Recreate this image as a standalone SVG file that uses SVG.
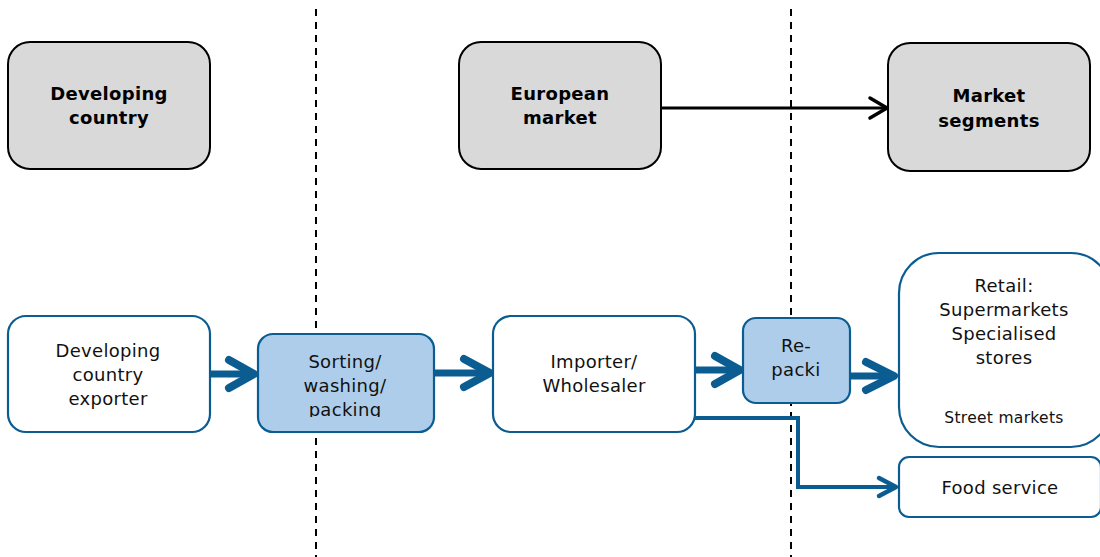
<svg xmlns="http://www.w3.org/2000/svg" width="1100" height="557" viewBox="0 0 1100 557">
<defs>
<style>
.hdr{fill:#d9d9d9;stroke:#000;stroke-width:2}
.hdrt{font-family:"DejaVu Sans",Verdana,sans-serif;font-weight:bold;font-size:18px;letter-spacing:0.3px;fill:#000;text-anchor:middle}
.box{fill:#fff;stroke:#0b5d91;stroke-width:2.2}
.lbox{fill:#aecdea;stroke:#0b5d91;stroke-width:2.2}
.t{font-family:"DejaVu Sans",Verdana,sans-serif;font-size:18px;letter-spacing:0.3px;fill:#111;text-anchor:middle}
.ts{font-family:"DejaVu Sans",Verdana,sans-serif;font-size:15.5px;letter-spacing:0.3px;fill:#111;text-anchor:middle}
.dash{stroke:#000;stroke-width:2;stroke-dasharray:7 6;fill:none}
.thick{stroke:#0b5d91;stroke-width:7;fill:none}
.head{stroke:#0b5d91;stroke-width:8;fill:none;stroke-linecap:round;stroke-linejoin:round}
.thin{stroke:#0b5d91;stroke-width:4;fill:none}
.thinhead{stroke:#0b5d91;stroke-width:4.5;fill:none;stroke-linecap:round;stroke-linejoin:round}
</style>
<clipPath id="clipSort"><rect x="258" y="334" width="176" height="83"/></clipPath>
</defs>
<g id="dividers">
<line class="dash" x1="316" y1="9" x2="316" y2="557"/>
<line class="dash" x1="791" y1="9" x2="791" y2="557"/>
</g>
<g id="connectors">
<line x1="661" y1="108" x2="886" y2="108" stroke="#000" stroke-width="3.2"/>
<path d="M870,98 L887,108 L870,118" fill="none" stroke="#000" stroke-width="3.5" stroke-linecap="round" stroke-linejoin="round"/>
<line class="thick" x1="210" y1="374" x2="252" y2="374"/>
<path class="head" d="M229,360 L254,374 L229,388"/>
<line class="thick" x1="434" y1="373" x2="488" y2="373"/>
<path class="head" d="M464,359 L490,373 L464,387"/>
<line class="thick" x1="696" y1="370" x2="738" y2="370"/>
<path class="head" d="M715,356 L740,370 L715,384"/>
<line class="thick" x1="850" y1="376" x2="893" y2="376"/>
<path class="head" d="M866,362 L894,376 L866,390"/>
<path class="thin" d="M695,418 L798,418 L798,487 L895,487"/>
<path class="thinhead" d="M879,478 L896,487 L879,496"/>
</g>
<g id="developing-country">
<rect class="hdr" x="8" y="42" width="202" height="127" rx="22"/>
<text class="hdrt" x="109" y="100">Developing</text>
<text class="hdrt" x="109" y="124">country</text>
</g>
<g id="european-market">
<rect class="hdr" x="459" y="42" width="202" height="127" rx="22"/>
<text class="hdrt" x="560" y="100">European</text>
<text class="hdrt" x="560" y="124">market</text>
</g>
<g id="market-segments">
<rect class="hdr" x="888" y="43" width="202" height="128" rx="22"/>
<text class="hdrt" x="989" y="102">Market</text>
<text class="hdrt" x="989" y="127">segments</text>
</g>
<g id="exporter">
<rect class="box" x="8" y="316" width="202" height="116" rx="18"/>
<text class="t" x="108" y="357">Developing</text>
<text class="t" x="108" y="381">country</text>
<text class="t" x="108" y="405">exporter</text>
</g>
<g id="sorting">
<rect class="lbox" x="258" y="334" width="176" height="98" rx="15"/>
<g clip-path="url(#clipSort)">
<text class="t" x="345" y="368">Sorting/</text>
<text class="t" x="345" y="392">washing/</text>
<text class="t" x="345" y="416">packing</text>
</g>
</g>
<g id="importer">
<rect class="box" x="493" y="316" width="202" height="116" rx="18"/>
<text class="t" x="594" y="368">Importer/</text>
<text class="t" x="594" y="392">Wholesaler</text>
</g>
<g id="repacking">
<rect class="lbox" x="743" y="318" width="107" height="85" rx="13"/>
<text class="t" x="796" y="352">Re-</text>
<text class="t" x="796" y="376">packi</text>
</g>
<g id="retail">
<rect class="box" x="899" y="253" width="212" height="194" rx="40"/>
<text class="t" x="1004" y="292">Retail:</text>
<text class="t" x="1004" y="316">Supermarkets</text>
<text class="t" x="1004" y="340">Specialised</text>
<text class="t" x="1004" y="364">stores</text>
<text class="ts" x="1004" y="423">Street markets</text>
</g>
<g id="food-service">
<rect class="box" x="899" y="457" width="202" height="60" rx="10"/>
<text class="t" x="1000" y="494">Food service</text>
</g>
</svg>
